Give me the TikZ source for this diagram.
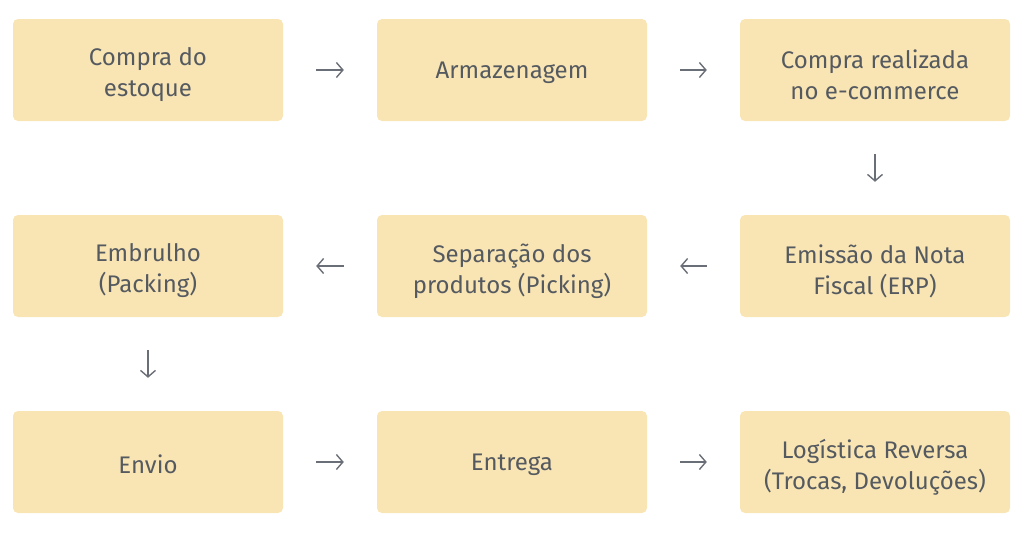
\documentclass[tikz,border=0pt]{standalone}
\usepackage{fontspec}
\setmainfont{Fira Sans}
\usetikzlibrary{arrows.meta}
\definecolor{boxfill}{HTML}{F9E5B4}
\definecolor{txt}{HTML}{555A60}
\definecolor{arr}{HTML}{6A6E76}
\begin{document}
\begin{tikzpicture}[x=1pt,y=-1pt,
  box/.style={fill=boxfill,rounded corners=5pt,minimum width=270pt,minimum height=102pt,
    inner sep=0pt,label={[boxtext]center:#1}},
  onebox/.style={fill=boxfill,rounded corners=5pt,minimum width=270pt,minimum height=102pt,
    inner sep=0pt,label={[boxtext,yshift=2.5pt]center:#1}},
  boxtext/.style={align=center,text=txt,font=\fontsize{24}{31}\selectfont,yshift=-5pt,inner sep=0pt},
  flow/.style={draw=arr,line width=1.4pt,-{Straight Barb[length=6.5pt,width=15pt,line width=1.4pt]},
    shorten >=33pt,shorten <=33pt}]
\useasboundingbox (0,0) rectangle (1024,536);
\node[box={Compra do\\estoque}] (a) at (148,70) {};
\node[onebox={Armazenagem}] (b) at (512,70) {};
\node[box={Compra realizada\\no e-commerce}] (c) at (875,70) {};
\node[box={Emissão da Nota\\Fiscal (ERP)}] (d) at (875,266) {};
\node[box={Separação dos\\produtos (Picking)}] (e) at (512,266) {};
\node[box={Embrulho\\(Packing)}] (f) at (148,266) {};
\node[onebox={Envio}] (g) at (148,462) {};
\node[onebox={Entrega}] (h) at (512,462) {};
\node[box={Logística Reversa\\(Trocas, Devoluções)}] (i) at (875,462) {};
\draw[flow] (a) -- (b);
\draw[flow] (b) -- (c);
\draw[flow] (c) -- (d);
\draw[flow] (d) -- (e);
\draw[flow] (e) -- (f);
\draw[flow] (f) -- (g);
\draw[flow] (g) -- (h);
\draw[flow] (h) -- (i);
\end{tikzpicture}
\end{document}
